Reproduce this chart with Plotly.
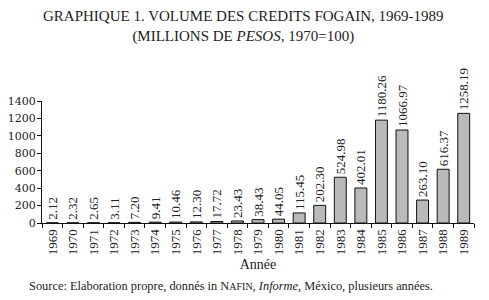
import plotly.graph_objects as go

years = ["1969", "1970", "1971", "1972", "1973", "1974", "1975", "1976", "1977", "1978",
         "1979", "1980", "1981", "1982", "1983", "1984", "1985", "1986", "1987", "1988", "1989"]
values = [2.12, 2.32, 2.65, 3.11, 7.20, 9.41, 10.46, 12.30, 17.72, 23.43,
          38.43, 44.05, 115.45, 202.30, 524.98, 402.01, 1180.26, 1066.97, 263.10, 616.37, 1258.19]
y_ticks = [0, 200, 400, 600, 800, 1000, 1200, 1400]

SERIF = "Liberation Serif, Times New Roman, serif"
DSERIF = "DejaVu Serif, serif"

fig = go.Figure(go.Bar(
    x=years, y=values,
    text=[f"{v:.2f}" for v in values],
    textposition="outside", textangle=-90, constraintext="none",
    textfont=dict(family=SERIF, size=13, color="#222"),
    cliponaxis=False,
    marker=dict(color="#b9b9b9", line=dict(color="#111", width=1)),
    width=0.58,
))

# the page body has an 8px margin, so the figure is sized 8px smaller
fig.update_layout(
    width=481, height=292,
    margin=dict(l=34, r=15, t=93, b=77),
    paper_bgcolor="white", plot_bgcolor="white",
    showlegend=False,
    font=dict(family=SERIF, color="#111"),
    xaxis=dict(
        type="category", tickangle=-90, tickson="boundaries", automargin=False,
        ticks="outside", ticklen=4, tickcolor="#111",
        showline=True, linecolor="#111", linewidth=1,
        showgrid=False, tickfont=dict(family=SERIF, size=13, color="#222"),
        title=dict(text="Année", font=dict(family=SERIF, size=14, color="#222"), standoff=4),
    ),
    yaxis=dict(
        range=[0, 1400], tickvals=y_ticks, ticks="outside", ticklen=4, tickcolor="#111",
        automargin=False, ticklabelstandoff=-1,
        showline=True, linecolor="#111", linewidth=1, showgrid=False, zeroline=False,
        tickfont=dict(family=DSERIF, size=11, color="#222"),
    ),
)

fig.add_annotation(
    text="GRAPHIQUE 1. VOLUME DES CREDITS FOGAIN, 1969-1989<br>(MILLIONS DE <i>PESOS</i>, 1970=100)",
    xref="paper", yref="paper", x=(243.5 - 42) / 432, y=1, yshift=95,
    xanchor="center", yanchor="top", showarrow=False,
    font=dict(family=SERIF, size=15, color="#222"),
)
fig.add_annotation(
    text="Source: Elaboration propre, donnés in N<span style='font-size:10px'>AFIN</span>, <i>Informe</i>, México, plusieurs années.",
    xref="paper", yref="paper", x=(27 - 42) / 432, y=0, yshift=-54,
    xanchor="left", yanchor="top", showarrow=False,
    font=dict(family=SERIF, size=12.4, color="#222"),
)

fig.write_html("out.html")
